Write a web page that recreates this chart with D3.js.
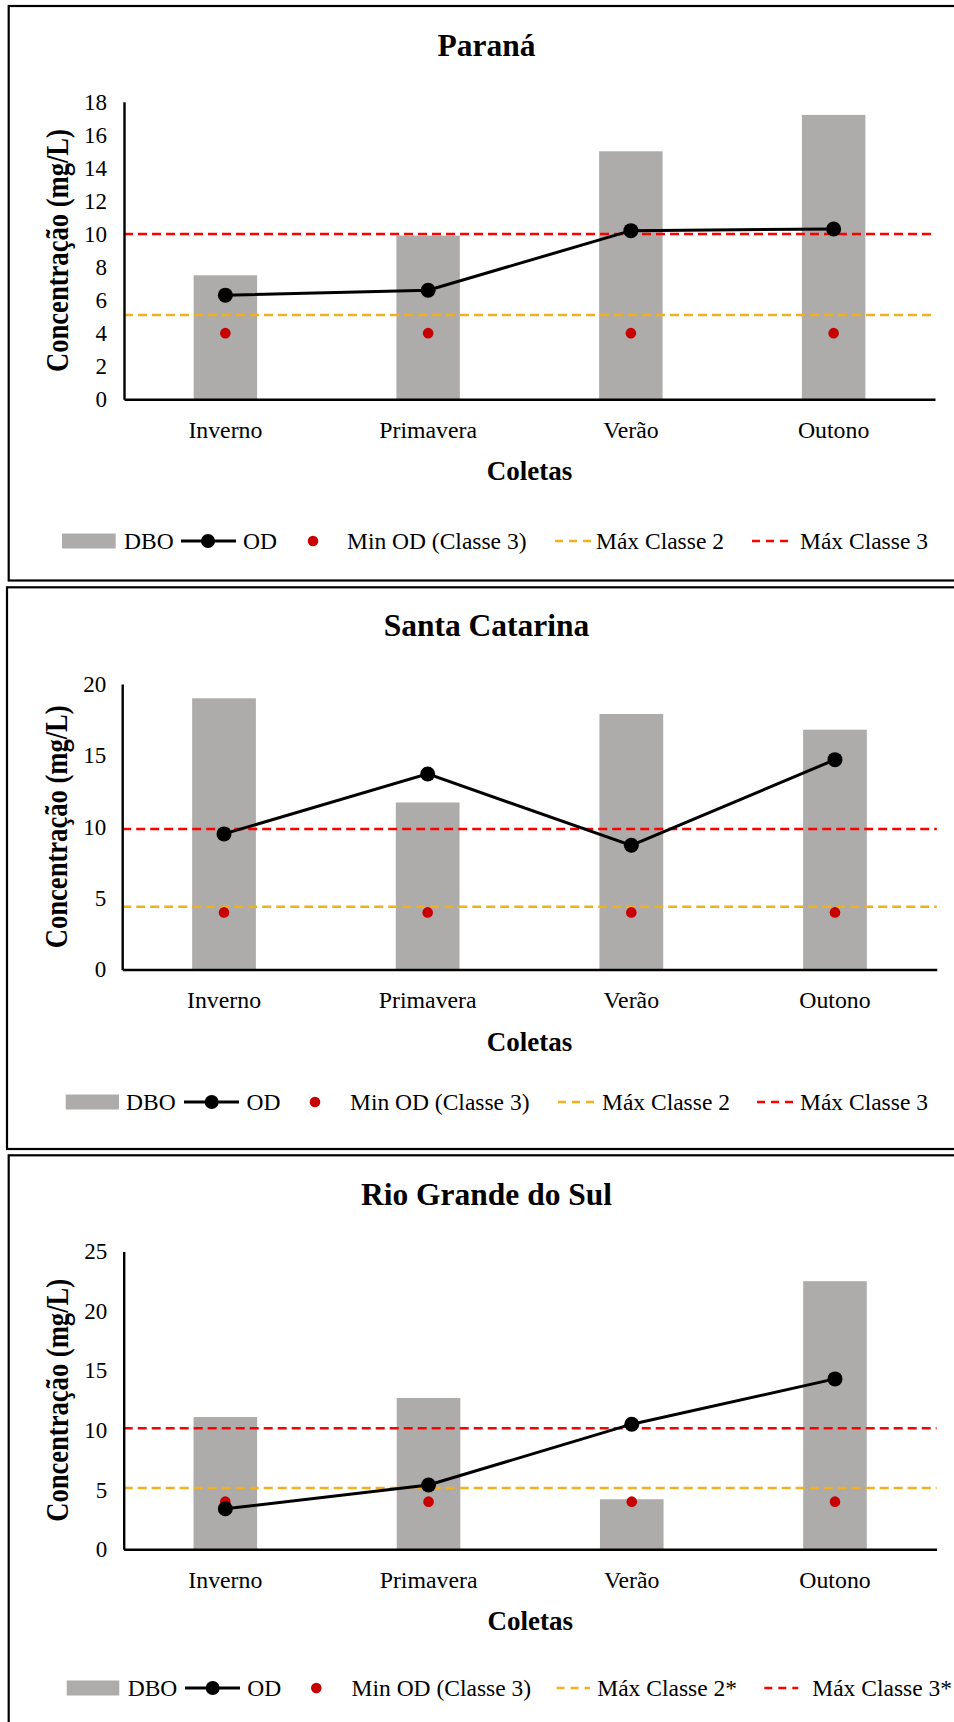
<!DOCTYPE html>
<html>
<head>
<meta charset="utf-8">
<script src="https://cdn.jsdelivr.net/npm/d3@7"></script>
<style>
  html, body { margin: 0; padding: 0; background: #fff; }
  svg { display: block; }
  text { font-family: "Liberation Serif", "Times New Roman", serif; fill: #000; }
</style>
</head>
<body>
<script>
// ---------------- DATA ----------------
const categories = ["Inverno", "Primavera", "Verão", "Outono"];

const paranaDBO = [7.5, 9.9, 15.0, 17.2];
const paranaOD = [6.3, 6.6, 10.2, 10.3];
const paranaMinOD = [4, 4, 4, 4];
const paranaMaxClasse2 = 5.1;
const paranaMaxClasse3 = 10.0;
const paranaTicks = [0, 2, 4, 6, 8, 10, 12, 14, 16, 18];

const scDBO = [19.0, 11.7, 17.9, 16.8];
const scOD = [9.5, 13.7, 8.7, 14.7];
const scMinOD = [4, 4, 4, 4];
const scMaxClasse2 = 4.4;
const scMaxClasse3 = 9.85;
const scTicks = [0, 5, 10, 15, 20];

const rsDBO = [11.1, 12.7, 4.2, 22.5];
const rsOD = [3.4, 5.4, 10.5, 14.3];
const rsMinOD = [4, 4, 4, 4];
const rsMaxClasse2 = 5.15;
const rsMaxClasse3 = 10.15;
const rsTicks = [0, 5, 10, 15, 20, 25];

const titles = ["Paraná", "Santa Catarina", "Rio Grande do Sul"];
const legendLabels = ["DBO", "OD", "Min OD (Classe 3)", "Máx Classe 2", "Máx Classe 3"];
const legendLabelsRS = ["DBO", "OD", "Min OD (Classe 3)", "Máx Classe 2*", "Máx Classe 3*"];
const yTitle = "Concentração (mg/L)";
const xTitle = "Coletas";

// ---------------- STYLE ----------------
const GRAY = "#AEABAB";
const DOT_RED = "#C80000";
const LINE_RED = "#FF0000";
const ORANGE = "#F0B020";

// ---------------- LAYOUT ----------------
const panels = [
  { title: titles[0], dbo: paranaDBO, od: paranaOD, minOD: paranaMinOD, c2: paranaMaxClasse2, c3: paranaMaxClasse3, ticks: paranaTicks, labels: legendLabels,
    box: [8.7, 6, 965, 580.5], x0: 124, x1: 935, yTop: 101.7, yBottom: 399.3, titleY: 56.4, yTitleX: 68, tickPad: 17,
    legY: 541, leg: { rect: [62, 115.7], dboT: 124, odLine: [181, 236], odM: 208, odT: 243, dot: 313, dotT: 347, c2Line: [555, 591], c2T: 596, c3Line: [752, 788], c3T: 800 } },
  { title: titles[1], dbo: scDBO, od: scOD, minOD: scMinOD, c2: scMaxClasse2, c3: scMaxClasse3, ticks: scTicks, labels: legendLabels,
    box: [7, 587.3, 965, 1149], x0: 122.2, x1: 936.8, yTop: 684, yBottom: 969.5, titleY: 636.3, yTitleX: 67, tickPad: 16,
    legY: 1102, leg: { rect: [65.7, 119], dboT: 126, odLine: [184, 239], odM: 211.7, odT: 246.5, dot: 315, dotT: 350, c2Line: [558, 597], c2T: 602, c3Line: [757, 794], c3T: 800 } },
  { title: titles[2], dbo: rsDBO, od: rsOD, minOD: rsMinOD, c2: rsMaxClasse2, c3: rsMaxClasse3, ticks: rsTicks, labels: legendLabelsRS,
    box: [8.7, 1155.3, 965, 1760], x0: 123.7, x1: 936.6, yTop: 1251.4, yBottom: 1549.3, titleY: 1205, yTitleX: 68, tickPad: 16.5,
    legY: 1688, leg: { rect: [66.7, 119.3], dboT: 127.7, odLine: [185, 240], odM: 212.7, odT: 247.3, dot: 316.3, dotT: 351.6, c2Line: [556.6, 590], c2T: 597.3, c3Line: [764.3, 798.3], c3T: 812.3 } }
];

const svg = d3.select("body").append("svg").attr("width", 954).attr("height", 1722);

panels.forEach(p => {
  const g = svg.append("g");
  const [bx0, by0, bx1, by1] = p.box;

  g.append("rect")
    .attr("x", bx0).attr("y", by0).attr("width", bx1 - bx0).attr("height", by1 - by0)
    .attr("fill", "none").attr("stroke", "#000").attr("stroke-width", 2.2);

  const x = d3.scaleBand().domain(categories).range([p.x0, p.x1])
    .paddingInner(0.687).paddingOuter(0.3435);
  const yMax = p.ticks[p.ticks.length - 1];
  const y = d3.scaleLinear().domain([0, yMax]).range([p.yBottom, p.yTop]);
  const cx = c => x(c) + x.bandwidth() / 2;

  // Title
  g.append("text").attr("x", 486.5).attr("y", p.titleY)
    .attr("text-anchor", "middle").attr("font-size", 31.5).attr("font-weight", "bold")
    .text(p.title);

  // Bars (DBO)
  g.selectAll("rect.bar").data(categories).join("rect").attr("class", "bar")
    .attr("x", c => x(c)).attr("width", x.bandwidth())
    .attr("y", (c, i) => y(p.dbo[i]))
    .attr("height", (c, i) => y(0) - y(p.dbo[i]))
    .attr("fill", GRAY);

  // Dashed reference lines
  g.append("line").attr("x1", p.x0).attr("x2", p.x1)
    .attr("y1", y(p.c2)).attr("y2", y(p.c2))
    .attr("stroke", ORANGE).attr("stroke-width", 2.5).attr("stroke-dasharray", "9,5");
  g.append("line").attr("x1", p.x0).attr("x2", p.x1)
    .attr("y1", y(p.c3)).attr("y2", y(p.c3))
    .attr("stroke", LINE_RED).attr("stroke-width", 2.5).attr("stroke-dasharray", "9,5");

  // Min OD dots
  g.selectAll("circle.min").data(categories).join("circle").attr("class", "min")
    .attr("cx", c => cx(c)).attr("cy", (c, i) => y(p.minOD[i]))
    .attr("r", 5.3).attr("fill", DOT_RED);

  // Axes
  const yAxis = g.append("g").attr("transform", `translate(${p.x0},0)`)
    .call(d3.axisLeft(y).tickValues(p.ticks).tickSize(0).tickSizeOuter(0).tickPadding(p.tickPad));
  yAxis.select(".domain").attr("stroke", "#000").attr("stroke-width", 2.4);
  yAxis.selectAll("text").attr("font-size", 23).attr("fill", "#000");

  const xAxis = g.append("g").attr("transform", `translate(0,${p.yBottom})`)
    .call(d3.axisBottom(x).tickSize(0).tickSizeOuter(0));
  xAxis.select(".domain").attr("stroke", "#000").attr("stroke-width", 2.6);
  xAxis.selectAll("text").attr("y", 38.7).attr("dy", null)
    .attr("font-size", 23.8).attr("fill", "#000");

  // OD line + markers
  const line = d3.line().x(d => cx(d.c)).y(d => y(d.v));
  const odData = categories.map((c, i) => ({ c, v: p.od[i] }));
  g.append("path").datum(odData).attr("d", line)
    .attr("fill", "none").attr("stroke", "#000").attr("stroke-width", 3);
  g.selectAll("circle.od").data(odData).join("circle").attr("class", "od")
    .attr("cx", d => cx(d.c)).attr("cy", d => y(d.v)).attr("r", 7.5).attr("fill", "#000");

  // Axis titles
  const yc = (p.yTop + p.yBottom) / 2;
  g.append("text")
    .attr("transform", `translate(${p.yTitleX},${yc}) rotate(-90) scale(1,1.17)`)
    .attr("text-anchor", "middle").attr("font-size", 26.6).attr("font-weight", "bold")
    .text(yTitle);
  g.append("text").attr("x", (p.x0 + p.x1) / 2).attr("y", p.yBottom + 81)
    .attr("text-anchor", "middle").attr("font-size", 27).attr("font-weight", "bold")
    .text(xTitle);

  // Legend
  const L = p.leg, ly = p.legY, fs = 23.5, tb = ly + 8;
  g.append("rect").attr("x", L.rect[0]).attr("y", ly - 7.5)
    .attr("width", L.rect[1] - L.rect[0]).attr("height", 15).attr("fill", GRAY);
  g.append("text").attr("x", L.dboT).attr("y", tb).attr("font-size", fs).text(p.labels[0]);
  g.append("line").attr("x1", L.odLine[0]).attr("x2", L.odLine[1]).attr("y1", ly).attr("y2", ly)
    .attr("stroke", "#000").attr("stroke-width", 3);
  g.append("circle").attr("cx", L.odM).attr("cy", ly).attr("r", 7).attr("fill", "#000");
  g.append("text").attr("x", L.odT).attr("y", tb).attr("font-size", fs).text(p.labels[1]);
  g.append("circle").attr("cx", L.dot).attr("cy", ly).attr("r", 5.3).attr("fill", DOT_RED);
  g.append("text").attr("x", L.dotT).attr("y", tb).attr("font-size", fs).text(p.labels[2]);
  g.append("line").attr("x1", L.c2Line[0]).attr("x2", L.c2Line[1]).attr("y1", ly).attr("y2", ly)
    .attr("stroke", ORANGE).attr("stroke-width", 2.5).attr("stroke-dasharray", "8,6");
  g.append("text").attr("x", L.c2T).attr("y", tb).attr("font-size", fs).text(p.labels[3]);
  g.append("line").attr("x1", L.c3Line[0]).attr("x2", L.c3Line[1]).attr("y1", ly).attr("y2", ly)
    .attr("stroke", LINE_RED).attr("stroke-width", 2.5).attr("stroke-dasharray", "8,6");
  g.append("text").attr("x", L.c3T).attr("y", tb).attr("font-size", fs).text(p.labels[4]);
});
</script>
</body>
</html>
